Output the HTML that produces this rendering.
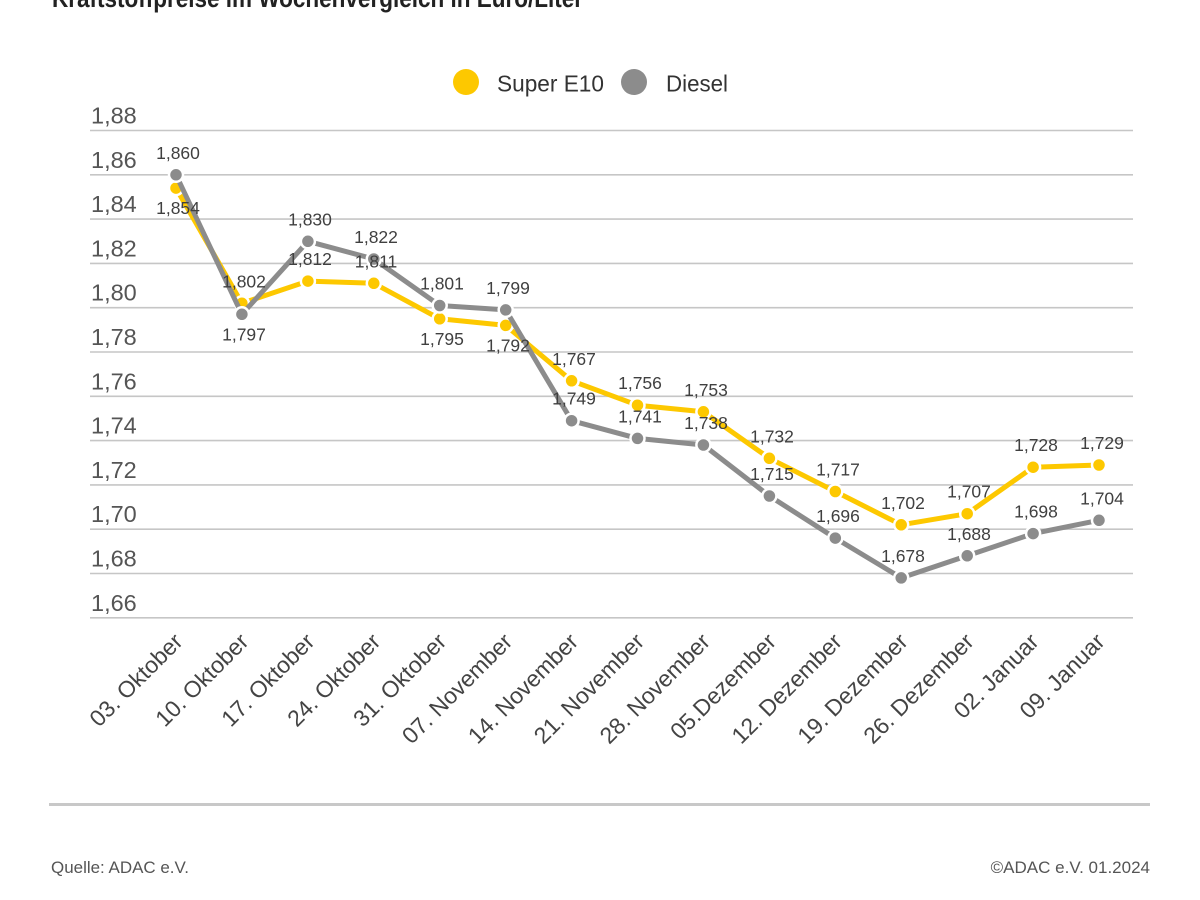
<!DOCTYPE html>
<html>
<head>
<meta charset="utf-8">
<style>
  html, body { margin: 0; padding: 0; background: #ffffff; }
  svg { display: block; }
  text { font-family: "Liberation Sans", "DejaVu Sans", sans-serif; }
</style>
</head>
<body>
<svg width="1200" height="900" viewBox="0 0 1200 900" xmlns="http://www.w3.org/2000/svg">
  <rect x="0" y="0" width="1200" height="900" fill="#ffffff"/>

  <!-- Title (cut off at top) -->
  <text x="52" y="7" font-size="26" font-weight="bold" fill="#222222" textLength="531" lengthAdjust="spacingAndGlyphs">Kraftstoffpreise im Wochenvergleich in Euro/Liter</text>

  <!-- Legend -->
  <circle cx="466" cy="82" r="13" fill="#fdc800"/>
  <text x="497" y="91.5" font-size="23" fill="#333333" textLength="107" lengthAdjust="spacingAndGlyphs">Super E10</text>
  <circle cx="634" cy="82" r="13" fill="#8c8c8c"/>
  <text x="666" y="91.5" font-size="23" fill="#333333" textLength="62" lengthAdjust="spacingAndGlyphs">Diesel</text>

  <!-- Gridlines -->
  <g stroke="#c6c6c6" stroke-width="1.6">
    <line x1="90" y1="130.5" x2="1133" y2="130.5"/>
    <line x1="90" y1="174.8" x2="1133" y2="174.8"/>
    <line x1="90" y1="219.1" x2="1133" y2="219.1"/>
    <line x1="90" y1="263.4" x2="1133" y2="263.4"/>
    <line x1="90" y1="307.7" x2="1133" y2="307.7"/>
    <line x1="90" y1="352.0" x2="1133" y2="352.0"/>
    <line x1="90" y1="396.3" x2="1133" y2="396.3"/>
    <line x1="90" y1="440.6" x2="1133" y2="440.6"/>
    <line x1="90" y1="484.9" x2="1133" y2="484.9"/>
    <line x1="90" y1="529.2" x2="1133" y2="529.2"/>
    <line x1="90" y1="573.5" x2="1133" y2="573.5"/>
    <line x1="90" y1="617.8" x2="1133" y2="617.8"/>
  </g>

  <!-- Y axis labels -->
  <g font-size="23.5" fill="#555555">
    <text x="91" y="123.5">1,88</text>
    <text x="91" y="167.8">1,86</text>
    <text x="91" y="212.1">1,84</text>
    <text x="91" y="256.4">1,82</text>
    <text x="91" y="300.7">1,80</text>
    <text x="91" y="345.0">1,78</text>
    <text x="91" y="389.3">1,76</text>
    <text x="91" y="433.6">1,74</text>
    <text x="91" y="477.9">1,72</text>
    <text x="91" y="522.2">1,70</text>
    <text x="91" y="566.5">1,68</text>
    <text x="91" y="610.8">1,66</text>
  </g>

  <!-- Super E10 series -->
  <polyline fill="none" stroke="#fdc800" stroke-width="5" stroke-linejoin="round"
    points="176,188.1 241.9,303.3 307.9,281.1 373.8,283.3 439.7,318.8 505.7,325.4 571.6,380.8 637.5,405.2 703.4,411.8 769.4,458.3 835.3,491.5 901.2,524.8 967.2,513.7 1033.1,467.2 1099,465.0"/>
  <g fill="#fdc800" stroke="#ffffff" stroke-width="2.5">
    <circle cx="176" cy="188.1" r="7"/>
    <circle cx="241.9" cy="303.3" r="7"/>
    <circle cx="307.9" cy="281.1" r="7"/>
    <circle cx="373.8" cy="283.3" r="7"/>
    <circle cx="439.7" cy="318.8" r="7"/>
    <circle cx="505.7" cy="325.4" r="7"/>
    <circle cx="571.6" cy="380.8" r="7"/>
    <circle cx="637.5" cy="405.2" r="7"/>
    <circle cx="703.4" cy="411.8" r="7"/>
    <circle cx="769.4" cy="458.3" r="7"/>
    <circle cx="835.3" cy="491.5" r="7"/>
    <circle cx="901.2" cy="524.8" r="7"/>
    <circle cx="967.2" cy="513.7" r="7"/>
    <circle cx="1033.1" cy="467.2" r="7"/>
    <circle cx="1099" cy="465.0" r="7"/>
  </g>

  <!-- Diesel series -->
  <polyline fill="none" stroke="#8c8c8c" stroke-width="5" stroke-linejoin="round"
    points="176,174.8 241.9,314.3 307.9,241.3 373.8,259.0 439.7,305.5 505.7,309.9 571.6,420.7 637.5,438.4 703.4,445.0 769.4,496.0 835.3,538.1 901.2,577.9 967.2,555.8 1033.1,533.6 1099,520.3"/>
  <g fill="#8c8c8c" stroke="#ffffff" stroke-width="2.5">
    <circle cx="176" cy="174.8" r="7"/>
    <circle cx="241.9" cy="314.3" r="7"/>
    <circle cx="307.9" cy="241.3" r="7"/>
    <circle cx="373.8" cy="259.0" r="7"/>
    <circle cx="439.7" cy="305.5" r="7"/>
    <circle cx="505.7" cy="309.9" r="7"/>
    <circle cx="571.6" cy="420.7" r="7"/>
    <circle cx="637.5" cy="438.4" r="7"/>
    <circle cx="703.4" cy="445.0" r="7"/>
    <circle cx="769.4" cy="496.0" r="7"/>
    <circle cx="835.3" cy="538.1" r="7"/>
    <circle cx="901.2" cy="577.9" r="7"/>
    <circle cx="967.2" cy="555.8" r="7"/>
    <circle cx="1033.1" cy="533.6" r="7"/>
    <circle cx="1099" cy="520.3" r="7"/>
  </g>

  <!-- Value labels: Super E10 -->
  <g font-size="17.5" fill="#404040" text-anchor="middle">
    <text x="178" y="214.1">1,854</text>
    <text x="244" y="287.3">1,802</text>
    <text x="310" y="265.1">1,812</text>
    <text x="376" y="267.3">1,811</text>
    <text x="442" y="344.8">1,795</text>
    <text x="508" y="351.4">1,792</text>
    <text x="574" y="364.8">1,767</text>
    <text x="640" y="389.2">1,756</text>
    <text x="706" y="395.8">1,753</text>
    <text x="772" y="442.3">1,732</text>
    <text x="838" y="475.5">1,717</text>
    <text x="903" y="508.8">1,702</text>
    <text x="969" y="497.7">1,707</text>
    <text x="1036" y="451.2">1,728</text>
    <text x="1102" y="449.0">1,729</text>
  </g>

  <!-- Value labels: Diesel -->
  <g font-size="17.5" fill="#404040" text-anchor="middle">
    <text x="178" y="158.8">1,860</text>
    <text x="244" y="340.3">1,797</text>
    <text x="310" y="225.3">1,830</text>
    <text x="376" y="243.0">1,822</text>
    <text x="442" y="289.5">1,801</text>
    <text x="508" y="293.9">1,799</text>
    <text x="574" y="404.7">1,749</text>
    <text x="640" y="422.4">1,741</text>
    <text x="706" y="429.0">1,738</text>
    <text x="772" y="480.0">1,715</text>
    <text x="838" y="522.1">1,696</text>
    <text x="903" y="561.9">1,678</text>
    <text x="969" y="539.8">1,688</text>
    <text x="1036" y="517.6">1,698</text>
    <text x="1102" y="504.3">1,704</text>
  </g>

  <!-- X axis labels -->
  <g font-size="23" fill="#444444" text-anchor="end">
    <text transform="translate(184,643) rotate(-45)">03. Oktober</text>
    <text transform="translate(249.9,643) rotate(-45)">10. Oktober</text>
    <text transform="translate(315.9,643) rotate(-45)">17. Oktober</text>
    <text transform="translate(381.8,643) rotate(-45)">24. Oktober</text>
    <text transform="translate(447.7,643) rotate(-45)">31. Oktober</text>
    <text transform="translate(513.7,643) rotate(-45)">07. November</text>
    <text transform="translate(579.6,643) rotate(-45)">14. November</text>
    <text transform="translate(645.5,643) rotate(-45)">21. November</text>
    <text transform="translate(711.4,643) rotate(-45)">28. November</text>
    <text transform="translate(777.4,643) rotate(-45)">05.Dezember</text>
    <text transform="translate(843.3,643) rotate(-45)">12. Dezember</text>
    <text transform="translate(909.2,643) rotate(-45)">19. Dezember</text>
    <text transform="translate(975.2,643) rotate(-45)">26. Dezember</text>
    <text transform="translate(1040.1,643) rotate(-45)">02. Januar</text>
    <text transform="translate(1106,643) rotate(-45)">09. Januar</text>
  </g>

  <!-- Footer -->
  <rect x="49" y="803" width="1101" height="3" fill="#c8c8c8"/>
  <text x="51" y="873" font-size="17" fill="#555555" textLength="138" lengthAdjust="spacingAndGlyphs">Quelle: ADAC e.V.</text>
  <text x="1150" y="873" font-size="17" fill="#555555" text-anchor="end">©ADAC e.V. 01.2024</text>
</svg>
</body>
</html>
